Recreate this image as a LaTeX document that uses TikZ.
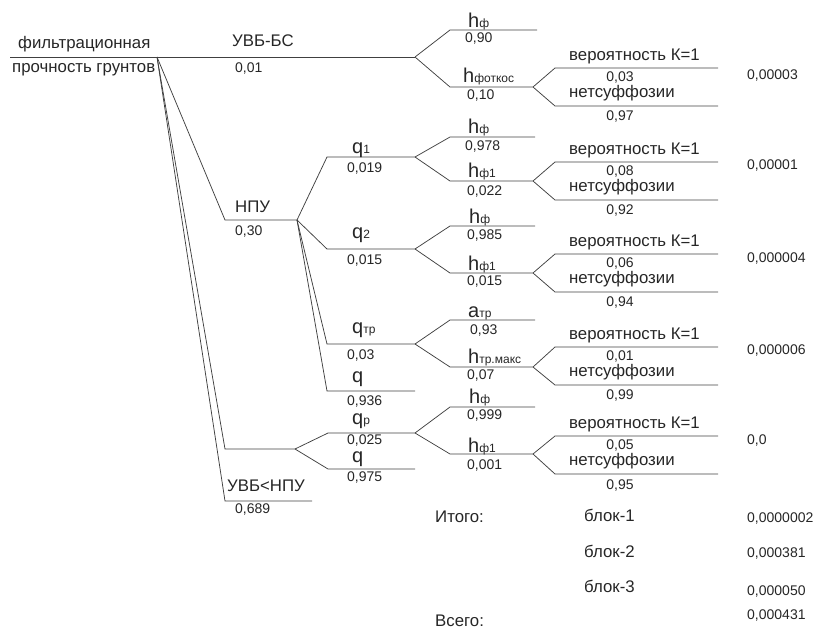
\documentclass[tikz,border=0pt]{standalone}
\usepackage{fontspec}
\setmainfont{Liberation Sans}
\newcommand\symsub[2]{{\fontsize{20}{20}\selectfont #1}{\fontsize{12}{12}\selectfont #2}}
\begin{document}
\begin{tikzpicture}[x=1pt,y=-1pt,
  ln/.style={draw=black!75, line width=0.75pt},
  lbl/.style={inner sep=0pt, text=black!85, font=\fontsize{16.8}{16.8}\selectfont},
  num/.style={inner sep=0pt, text=black!85, font=\fontsize{14}{14}\selectfont},
  big/.style={inner sep=0pt, text=black!85, anchor=base west}]
\useasboundingbox (0,0) rectangle (822,635);

% ---------- root ----------
\coordinate (r0) at (10,57);
\coordinate (r) at (157,57);
\coordinate (a) at (415,57);
\draw[ln] (r0) -- (a);
\node[lbl,anchor=mid west] (troot1) at (18,46) {фильтрационная};
\node[lbl,anchor=mid west] (troot2) at (12,70) {прочность грунтов};
\node[lbl,anchor=mid west] (tuvb) at (232,44) {УВБ-БС};
\node[num,anchor=mid west] (puvb) at (235,70) {0,01};

% ---------- second level ----------
\coordinate (n0) at (225,220); \coordinate (n) at (297,220);
\coordinate (l0) at (225,449); \coordinate (l) at (295,449);
\coordinate (u0) at (225,501); \coordinate (u) at (312,501);
\draw[ln] (r) -- (n0) -- (n);
\draw[ln] (r) -- (l0) -- (l);
\draw[ln] (r) -- (u0) -- (u);
\node[lbl,anchor=mid west] (tnpu) at (235,210) {НПУ};
\node[num,anchor=mid west] (pnpu) at (235,233) {0,30};
\node[lbl,anchor=mid west] (tless) at (227,489) {УВБ<НПУ};
\node[num,anchor=mid west] (pless) at (235,511) {0,689};

% ---------- flow branches ----------
\foreach \nm/\y in {q1/157, q2/249, q3/344, q4/391}{
  \coordinate (\nm s) at (327,\y);
  \coordinate (\nm) at (415,\y);
  \draw[ln] (n) -- (\nm s) -- (\nm);
}
\foreach \nm/\y in {q5/433, q6/469}{
  \coordinate (\nm s) at (328,\y);
  \coordinate (\nm) at (415,\y);
  \draw[ln] (l) -- (\nm s) -- (\nm);
}
\node[big] (tq1) at (352,153) {\symsub{q}{1}};
\node[num,anchor=mid west] (pq1) at (347,170) {0,019};
\node[big] (tq2) at (352,238) {\symsub{q}{2}};
\node[num,anchor=mid west] (pq2) at (347,262) {0,015};
\node[big] (tq3) at (352,333) {\symsub{q}{тр}};
\node[num,anchor=mid west] (pq3) at (347,357) {0,03};
\node[big] (tq4) at (352,382) {\symsub{q}{}};
\node[num,anchor=mid west] (pq4) at (347,403) {0,936};
\node[big] (tq5) at (352,424) {\symsub{q}{р}};
\node[num,anchor=mid west] (pq5) at (347,442) {0,025};
\node[big] (tq6) at (352,462) {\symsub{q}{}};
\node[num,anchor=mid west] (pq6) at (347,479) {0,975};

% ---------- head branches ----------
\foreach \src/\nm/\y/\x in {a/h1/30/537, a/h2/87/533, q1/h3/137/535, q1/h4/181/533,
    q2/h5/226/535, q2/h6/273/533, q3/h7/320/535, q3/h8/367/533,
    q5/h9/407/535, q5/h10/454/533}{
  \coordinate (\nm s) at (450,\y);
  \coordinate (\nm) at (\x,\y);
  \draw[ln] (\src) -- (\nm s) -- (\nm);
}
\node[big] (th1) at (468,27) {\symsub{h}{ф}};
\node[num,anchor=mid west] (ph1) at (465,40) {0,90};
\node[big] (th2) at (463,82) {\symsub{h}{фоткос}};
\node[num,anchor=mid west] (ph2) at (467,97) {0,10};
\node[big] (th3) at (468,133) {\symsub{h}{ф}};
\node[num,anchor=mid west] (ph3) at (465,148) {0,978};
\node[big] (th4) at (468,177) {\symsub{h}{ф1}};
\node[num,anchor=mid west] (ph4) at (467,193) {0,022};
\node[big] (th5) at (469,223) {\symsub{h}{ф}};
\node[num,anchor=mid west] (ph5) at (467,237) {0,985};
\node[big] (th6) at (468,270) {\symsub{h}{ф1}};
\node[num,anchor=mid west] (ph6) at (467,283) {0,015};
\node[big] (th7) at (468,317) {\symsub{a}{тр}};
\node[num,anchor=mid west] (ph7) at (470,332) {0,93};
\node[big] (th8) at (468,363) {\symsub{h}{тр.макс}};
\node[num,anchor=mid west] (ph8) at (467,377) {0,07};
\node[big] (th9) at (469,403) {\symsub{h}{ф}};
\node[num,anchor=mid west] (ph9) at (467,417) {0,999};
\node[big] (th10) at (468,452) {\symsub{h}{ф1}};
\node[num,anchor=mid west] (ph10) at (467,467) {0,001};

% ---------- suffosion blocks ----------
\foreach \src/\k/\up/\pa/\pb/\val/\vy in {
    h2/1/68/{0,03}/{0,97}/{0,00003}/77,
    h4/2/162/{0,08}/{0,92}/{0,00001}/167,
    h6/3/254/{0,06}/{0,94}/{0,000004}/260,
    h8/4/347/{0,01}/{0,99}/{0,000006}/352,
    h10/5/436/{0,05}/{0,95}/{0,0}/442}{
  \pgfmathsetmacro\lo{\up+38}
  \coordinate (k\k us) at (555,\up);
  \coordinate (k\k ue) at (718,\up);
  \coordinate (k\k ls) at (555,\lo);
  \coordinate (k\k le) at (718,\lo);
  \draw[ln] (\src) -- (k\k us) -- (k\k ue);
  \draw[ln] (\src) -- (k\k ls) -- (k\k le);
  \node[lbl,anchor=mid west] (kt\k) at (569,\up-10) {вероятность К=1};
  \node[num] (kpa\k) at (620,\up+10) {\pa};
  \node[lbl,anchor=mid west] (kn\k) at (569,\up+27) {нетсуффозии};
  \node[num] (kpb\k) at (620,\up+49) {\pb};
  \node[num,anchor=mid west] (kv\k) at (747,\vy) {\val};
}

% ---------- totals ----------
\node[lbl,anchor=mid west] (itogo) at (435,520) {Итого:};
\node[lbl,anchor=mid west] (b1) at (584,519) {блок-1};
\node[num,anchor=mid west] (v1) at (747,520) {0,0000002};
\node[lbl,anchor=mid west] (b2) at (584,555) {блок-2};
\node[num,anchor=mid west] (v2) at (747,555) {0,000381};
\node[lbl,anchor=mid west] (b3) at (584,590) {блок-3};
\node[num,anchor=mid west] (v3) at (747,593) {0,000050};
\node[lbl,anchor=mid west] (vsego) at (435,624) {Всего:};
\node[num,anchor=mid west] (vall) at (747,617) {0,000431};
\end{tikzpicture}
\end{document}
